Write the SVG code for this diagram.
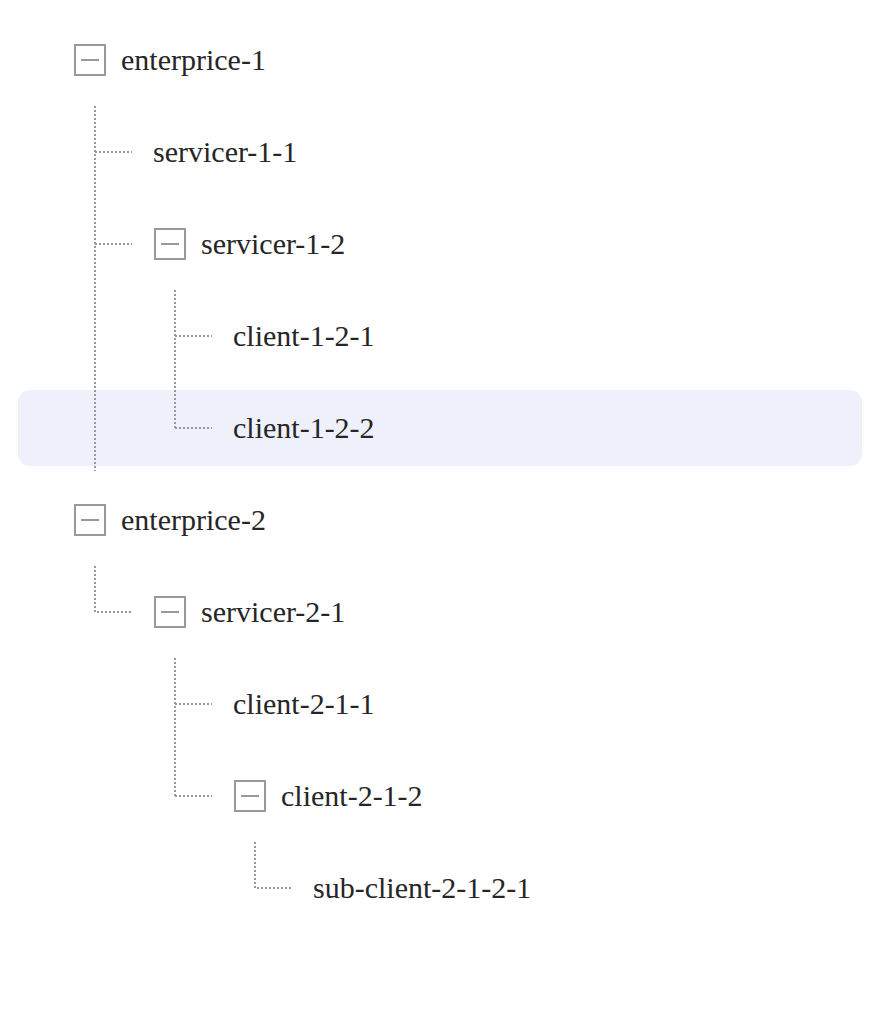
<svg xmlns="http://www.w3.org/2000/svg" width="880" height="1026" viewBox="0 0 880 1026">
<style>
.t{font-family:'Liberation Serif','Times New Roman',Times,serif;font-size:30px;fill:#262626}
.box{fill:#fff;stroke:#999;stroke-width:2}
.minus{stroke:#999;stroke-width:2}
.dot{fill:none;stroke:#999;stroke-width:2;stroke-dasharray:2 2}
</style>
<rect width="880" height="1026" fill="#fff"/>
<rect id="highlight" x="18" y="390" width="844" height="76" rx="12" fill="#eef0fc"/>
<g id="connectors">
<path class="dot" d="M95 106V471M95 152H132M95 244H132"/>
<path class="dot" d="M175 290V428M175 336H212M175 428H212"/>
<path class="dot" d="M95 566V612H132"/>
<path class="dot" d="M175 658V796M175 704H212M175 796H212"/>
<path class="dot" d="M255 842V888H292"/>
</g>
<g id="enterprice-1"><rect class="box" x="75" y="45" width="30" height="30"/><path class="minus" d="M81 60H99"/><text class="t" x="121" y="70">enterprice-1</text></g>
<g id="servicer-1-1"><text class="t" x="153" y="162">servicer-1-1</text></g>
<g id="servicer-1-2"><rect class="box" x="155" y="229" width="30" height="30"/><path class="minus" d="M161 244H179"/><text class="t" x="201" y="254">servicer-1-2</text></g>
<g id="client-1-2-1"><text class="t" x="233" y="346">client-1-2-1</text></g>
<g id="client-1-2-2"><text class="t" x="233" y="438">client-1-2-2</text></g>
<g id="enterprice-2"><rect class="box" x="75" y="505" width="30" height="30"/><path class="minus" d="M81 520H99"/><text class="t" x="121" y="530">enterprice-2</text></g>
<g id="servicer-2-1"><rect class="box" x="155" y="597" width="30" height="30"/><path class="minus" d="M161 612H179"/><text class="t" x="201" y="622">servicer-2-1</text></g>
<g id="client-2-1-1"><text class="t" x="233" y="714">client-2-1-1</text></g>
<g id="client-2-1-2"><rect class="box" x="235" y="781" width="30" height="30"/><path class="minus" d="M241 796H259"/><text class="t" x="281" y="806">client-2-1-2</text></g>
<g id="sub-client-2-1-2-1"><text class="t" x="313" y="898">sub-client-2-1-2-1</text></g>
</svg>
